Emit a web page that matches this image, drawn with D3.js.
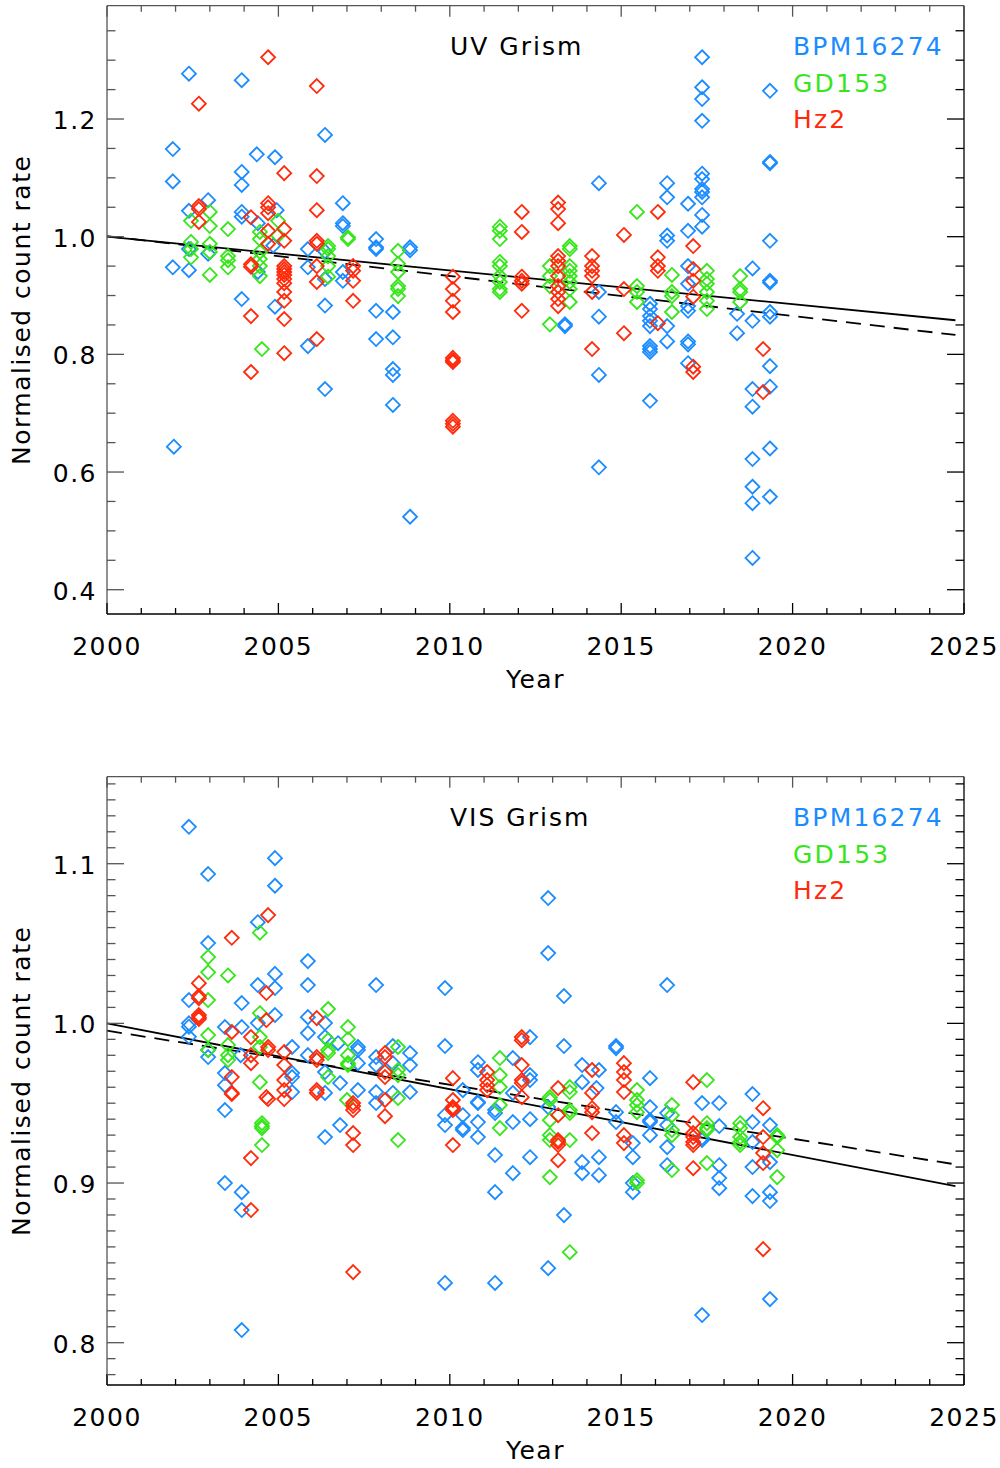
<!DOCTYPE html>
<html><head><meta charset="utf-8">
<script src="https://cdn.jsdelivr.net/npm/d3@7"></script>
<style>body{margin:0;background:#fff}</style>
</head><body>
<svg id="c" width="1000" height="1468" xmlns="http://www.w3.org/2000/svg"></svg>
<script>
const xMajorTicks = [2000,2005,2010,2015,2020,2025];
const starNames = ["BPM16274","GD153","Hz2"];
const starColors = ["#1a8cff","#36e61a","#ff2a0a"];
const uvMajorTicks = [0.4,0.6,0.8,1.0,1.2];
const visMajorTicks = [0.8,0.9,1.0,1.1];
const panelTitles = ["UV Grism","VIS Grism"];
const fitYears = [2000, 2024.75];
const uvSolidFit = [1.0, 0.858];
const uvDashedFit = [1.001, 0.833];
const visSolidFit = [1.0, 0.898];
const visDashedFit = [0.9954, 0.9117];

const uvBPM = [[2002.39,1.277],[2003.93,1.266],[2001.92,1.149],[2001.92,1.094],[2004.37,1.140],[2004.90,1.135],[2003.93,1.110],[2003.93,1.088],[2002.95,1.062],[2002.39,1.044],[2003.93,1.042],[2003.93,1.034],[2004.95,1.045],[2004.40,1.023],[2006.36,1.173],[2006.88,1.057],[2006.88,1.023],[2006.88,1.018],[2001.92,0.948],[2002.39,0.943],[2002.95,0.971],[2002.39,0.979],[2005.86,0.979],[2005.86,0.948],[2006.36,0.975],[2006.36,0.928],[2003.93,0.894],[2004.90,0.881],[2006.36,0.883],[2004.40,0.940],[2004.85,0.985],[2005.86,0.814],[2006.36,0.741],[2001.95,0.643],[2006.88,0.940],[2006.88,0.925],[2007.85,0.996],[2007.85,0.982],[2007.85,0.979],[2008.84,0.982],[2008.84,0.977],[2007.85,0.874],[2008.34,0.872],[2007.85,0.826],[2008.34,0.829],[2008.34,0.775],[2008.34,0.765],[2008.34,0.714],[2008.84,0.524],[2013.36,0.851],[2013.36,0.848],[2014.35,1.091],[2014.35,0.906],[2014.35,0.864],[2014.35,0.765],[2014.35,0.608],[2015.84,0.886],[2015.84,0.877],[2015.84,0.865],[2015.84,0.857],[2015.84,0.848],[2015.84,0.814],[2015.84,0.809],[2015.84,0.804],[2015.84,0.721],[2016.34,1.091],[2016.34,1.067],[2016.34,1.002],[2016.34,0.993],[2016.34,0.848],[2016.34,0.822],[2017.36,1.305],[2017.36,1.254],[2017.36,1.234],[2017.36,1.197],[2019.34,1.248],[2019.34,1.127],[2019.34,1.125],[2017.36,1.107],[2017.36,1.098],[2017.36,1.081],[2017.36,1.076],[2017.36,1.067],[2017.36,1.037],[2017.36,1.017],[2016.95,1.056],[2016.95,1.010],[2019.34,0.993],[2018.83,0.946],[2019.34,0.925],[2019.34,0.922],[2016.95,0.950],[2016.95,0.920],[2016.95,0.882],[2016.95,0.874],[2018.38,0.869],[2019.34,0.872],[2019.34,0.864],[2016.95,0.822],[2016.95,0.817],[2016.95,0.785],[2018.38,0.836],[2018.83,0.857],[2019.34,0.780],[2018.83,0.741],[2019.34,0.745],[2018.83,0.711],[2019.34,0.640],[2018.83,0.622],[2018.83,0.575],[2018.83,0.547],[2019.34,0.558],[2018.83,0.454]];

const uvGD = [[2002.45,1.027],[2003.00,1.042],[2003.00,1.018],[2003.53,1.013],[2002.45,0.991],[2002.45,0.979],[2002.45,0.965],[2003.00,0.988],[2003.00,0.974],[2003.00,0.935],[2003.53,0.967],[2003.53,0.960],[2003.53,0.948],[2004.46,1.008],[2004.46,0.996],[2004.46,0.974],[2004.46,0.962],[2004.46,0.950],[2004.46,0.933],[2004.99,1.027],[2004.99,1.002],[2006.45,0.984],[2006.45,0.979],[2006.45,0.967],[2006.45,0.950],[2006.45,0.932],[2004.52,0.809],[2007.03,0.999],[2007.03,0.996],[2008.49,0.976],[2008.49,0.954],[2008.49,0.940],[2008.49,0.916],[2008.49,0.911],[2008.49,0.899],[2011.46,1.017],[2011.46,1.010],[2011.46,0.996],[2011.46,0.957],[2011.46,0.950],[2011.46,0.933],[2011.46,0.923],[2011.46,0.911],[2011.46,0.906],[2013.50,0.984],[2013.50,0.979],[2013.50,0.950],[2013.50,0.942],[2013.50,0.933],[2013.50,0.923],[2013.50,0.911],[2013.50,0.889],[2012.92,0.950],[2012.92,0.933],[2012.92,0.916],[2012.92,0.851],[2015.46,1.042],[2015.46,0.916],[2015.46,0.906],[2015.46,0.889],[2016.48,0.935],[2016.48,0.906],[2016.48,0.899],[2016.48,0.872],[2017.50,0.942],[2017.50,0.928],[2017.50,0.920],[2017.50,0.906],[2017.50,0.891],[2017.50,0.877],[2018.47,0.933],[2018.47,0.911],[2018.47,0.906],[2018.47,0.889]];

const uvHZ = [[2004.70,1.305],[2006.12,1.256],[2002.68,1.226],[2005.17,1.108],[2006.12,1.103],[2002.68,1.052],[2002.68,1.047],[2004.70,1.057],[2004.70,1.050],[2004.70,1.040],[2006.12,1.045],[2002.68,1.025],[2004.20,1.033],[2004.70,1.010],[2005.17,1.013],[2005.17,0.993],[2006.12,0.993],[2006.12,0.988],[2004.20,0.953],[2004.20,0.949],[2005.17,0.950],[2005.17,0.945],[2005.17,0.940],[2005.17,0.935],[2005.17,0.928],[2005.17,0.921],[2006.12,0.950],[2006.12,0.923],[2005.17,0.906],[2005.17,0.891],[2004.20,0.865],[2005.17,0.860],[2004.70,0.988],[2005.17,0.802],[2006.12,0.826],[2004.20,0.770],[2007.18,0.950],[2007.18,0.942],[2007.18,0.925],[2007.18,0.891],[2010.09,0.932],[2010.09,0.911],[2010.09,0.891],[2010.09,0.872],[2010.09,0.794],[2010.09,0.790],[2010.09,0.787],[2010.09,0.687],[2010.09,0.682],[2010.09,0.677],[2012.10,1.042],[2012.10,1.008],[2012.10,0.932],[2012.10,0.925],[2012.10,0.920],[2012.10,0.874],[2013.16,1.058],[2013.16,1.047],[2013.16,1.023],[2013.16,0.967],[2013.16,0.959],[2013.16,0.950],[2013.16,0.933],[2013.16,0.916],[2013.16,0.906],[2013.16,0.894],[2013.16,0.882],[2014.15,0.967],[2014.15,0.950],[2014.15,0.942],[2014.15,0.933],[2014.15,0.906],[2014.15,0.809],[2015.08,1.003],[2015.08,0.911],[2015.08,0.836],[2016.07,1.042],[2016.07,0.965],[2016.07,0.950],[2016.07,0.942],[2016.07,0.853],[2017.10,0.984],[2017.10,0.945],[2017.10,0.925],[2017.10,0.898],[2017.10,0.779],[2017.10,0.770],[2019.14,0.809],[2019.14,0.736]];

const visBPM = [[2002.39,1.1231],[2002.95,1.0935],[2004.90,1.1035],[2004.90,1.0862],[2004.40,1.0634],[2002.95,1.0503],[2005.86,1.039],[2004.90,1.031],[2004.40,1.024],[2004.90,1.0221],[2005.86,1.024],[2002.39,1.0146],[2003.93,1.0127],[2002.39,1.0],[2002.39,0.9979],[2002.39,0.9916],[2002.95,0.9833],[2002.95,0.9789],[2003.44,0.9977],[2003.93,0.9977],[2004.40,1.0002],[2004.90,1.0052],[2005.86,1.0039],[2005.86,0.9939],[2006.36,1.0002],[2006.36,0.9914],[2005.40,0.9852],[2005.86,0.9801],[2005.40,0.9689],[2005.40,0.9664],[2006.36,0.9695],[2003.44,0.9689],[2003.44,0.9613],[2003.90,0.9801],[2006.74,0.9876],[2006.36,0.9564],[2005.40,0.957],[2006.80,0.9626],[2003.44,0.9457],[2003.44,0.90],[2003.93,0.8943],[2003.93,0.8831],[2003.93,0.8079],[2006.36,0.9288],[2006.80,0.9363],[2007.85,1.024],[2009.86,1.0221],[2012.87,1.0785],[2012.87,1.044],[2013.33,1.0171],[2016.34,1.024],[2009.86,0.9858],[2012.34,0.9914],[2013.33,0.9858],[2014.85,0.9858],[2014.85,0.9845],[2007.32,0.9852],[2007.32,0.9833],[2008.34,0.9858],[2008.84,0.9814],[2007.85,0.9789],[2007.85,0.9739],[2008.84,0.9739],[2008.34,0.9751],[2007.32,0.9751],[2010.82,0.9757],[2010.82,0.9708],[2011.84,0.9783],[2012.34,0.9676],[2012.34,0.9645],[2013.86,0.9739],[2014.35,0.9708],[2015.84,0.9657],[2013.86,0.9632],[2007.32,0.9582],[2008.84,0.957],[2007.85,0.957],[2010.38,0.9582],[2011.84,0.9564],[2014.28,0.9595],[2007.85,0.9501],[2008.34,0.9564],[2009.86,0.9425],[2009.86,0.9363],[2010.38,0.9425],[2010.38,0.9344],[2010.38,0.9332],[2010.82,0.9507],[2010.82,0.9501],[2010.82,0.9382],[2010.82,0.9288],[2011.32,0.9457],[2011.32,0.9438],[2011.32,0.9175],[2011.32,0.8943],[2009.86,0.8374],[2011.32,0.8374],[2011.84,0.9382],[2011.84,0.9062],[2012.34,0.94],[2012.34,0.9162],[2012.87,0.8467],[2012.87,0.9476],[2013.33,0.8799],[2013.86,0.9131],[2013.86,0.9062],[2014.35,0.9162],[2014.35,0.9049],[2014.85,0.9444],[2014.85,0.9382],[2015.34,0.925],[2015.34,0.9162],[2015.34,0.90],[2015.34,0.8943],[2015.84,0.9476],[2015.84,0.9394],[2015.84,0.9382],[2015.84,0.93],[2016.34,0.9225],[2016.34,0.9112],[2018.83,0.9557],[2017.36,0.9501],[2017.86,0.9501],[2016.34,0.9438],[2016.34,0.9363],[2017.36,0.9282],[2017.36,0.9269],[2017.86,0.9357],[2017.86,0.9112],[2017.86,0.9031],[2017.86,0.8968],[2017.36,0.8173],[2018.83,0.9382],[2018.83,0.9257],[2018.83,0.91],[2018.83,0.8918],[2019.34,0.9363],[2019.34,0.9131],[2019.34,0.8943],[2019.34,0.8887],[2019.34,0.8273]];

const visGD = [[2004.46,1.0568],[2002.95,1.0415],[2002.95,1.032],[2003.53,1.030],[2002.95,1.0146],[2004.46,1.0064],[2006.45,1.009],[2002.95,0.9927],[2004.46,0.9914],[2004.46,0.9852],[2003.53,0.9864],[2003.53,0.9801],[2003.53,0.977],[2002.95,0.9833],[2006.45,0.9895],[2006.45,0.9833],[2006.45,0.9814],[2004.46,0.9632],[2006.45,0.9664],[2004.52,0.9375],[2004.52,0.9357],[2004.52,0.9344],[2004.52,0.9238],[2007.03,0.9977],[2007.03,0.9901],[2007.03,0.9801],[2007.03,0.9751],[2007.03,0.9739],[2008.49,0.9852],[2008.49,0.9708],[2008.49,0.9676],[2011.46,0.9783],[2011.46,0.9676],[2012.92,0.9538],[2007.00,0.952],[2008.49,0.9532],[2008.49,0.9269],[2011.46,0.9601],[2011.46,0.9488],[2011.46,0.9344],[2012.92,0.952],[2012.92,0.9394],[2012.92,0.93],[2012.92,0.9269],[2012.92,0.9037],[2013.50,0.9601],[2013.50,0.957],[2013.50,0.9457],[2013.50,0.9438],[2013.50,0.9269],[2013.50,0.8567],[2015.46,0.9582],[2015.46,0.952],[2015.46,0.9488],[2015.46,0.9444],[2015.46,0.9018],[2015.46,0.90],[2017.50,0.9645],[2016.48,0.9488],[2016.48,0.9425],[2016.48,0.9332],[2016.48,0.93],[2016.48,0.9081],[2017.50,0.9375],[2017.50,0.9344],[2017.50,0.9332],[2017.50,0.9125],[2018.47,0.9375],[2018.47,0.9344],[2018.47,0.9288],[2018.47,0.9257],[2018.47,0.9238],[2019.55,0.93],[2019.55,0.9288],[2019.55,0.9206],[2019.55,0.9037]];

const visHZ = [[2004.70,1.0678],[2003.64,1.0536],[2002.68,1.0252],[2002.68,1.0171],[2002.68,1.0158],[2002.68,1.0052],[2002.68,1.0039],[2002.68,1.0027],[2004.65,1.019],[2006.12,1.0033],[2004.65,1.0021],[2003.64,0.9946],[2004.20,0.9914],[2004.70,0.9852],[2004.70,0.9833],[2004.20,0.9801],[2005.17,0.982],[2004.20,0.9751],[2006.12,0.9789],[2006.12,0.977],[2005.17,0.9739],[2003.64,0.9664],[2005.17,0.9645],[2003.64,0.9564],[2003.64,0.9557],[2004.65,0.9538],[2004.70,0.9526],[2005.17,0.9582],[2005.17,0.9526],[2006.12,0.9582],[2006.12,0.9564],[2004.20,0.9156],[2004.20,0.8831],[2012.10,0.9914],[2012.10,0.9895],[2008.11,0.9814],[2008.11,0.9789],[2008.11,0.9695],[2008.11,0.9664],[2010.09,0.9657],[2011.09,0.9695],[2011.09,0.9645],[2011.09,0.9613],[2011.09,0.9582],[2012.10,0.9739],[2012.10,0.9645],[2012.10,0.9626],[2013.16,0.9595],[2014.15,0.9708],[2015.08,0.9751],[2015.08,0.9695],[2015.08,0.9645],[2015.08,0.957],[2014.15,0.9564],[2007.18,0.9501],[2007.18,0.9482],[2007.18,0.9457],[2007.18,0.9313],[2007.18,0.9238],[2007.18,0.8442],[2008.11,0.952],[2008.11,0.9419],[2010.09,0.952],[2010.09,0.9476],[2010.09,0.9469],[2010.09,0.9457],[2010.09,0.9238],[2012.10,0.9538],[2013.16,0.9425],[2013.16,0.9269],[2013.16,0.9257],[2013.16,0.9238],[2013.16,0.9143],[2014.15,0.9469],[2014.15,0.9444],[2014.15,0.9313],[2015.08,0.93],[2015.08,0.925],[2017.10,0.9632],[2017.10,0.9375],[2017.10,0.9313],[2017.10,0.9288],[2017.10,0.9257],[2017.10,0.9238],[2017.10,0.9093],[2019.14,0.9469],[2019.14,0.9288],[2019.14,0.9188],[2019.14,0.9125],[2019.14,0.8586]];

const svg = d3.select("#c");
const FONT = "'DejaVu Sans', sans-serif";
const left = 107, right = 964;

function drawPanel(p) {
  const x = d3.scaleLinear().domain([2000, 2025]).range([left, right]);
  const y = d3.scaleLinear().domain(p.domain).range([p.bottom, p.top]);
  const g = svg.append("g");

  const line = d3.line().x(d => x(d[0])).y(d => y(d[1]));
  g.append("path").datum(fitYears.map((t, i) => [t, p.solid[i]]))
    .attr("d", line).attr("fill", "none").attr("stroke", "#000").attr("stroke-width", 1.8);
  g.append("path").datum(fitYears.map((t, i) => [t, p.dashed[i]]))
    .attr("d", line).attr("fill", "none").attr("stroke", "#000").attr("stroke-width", 1.8)
    .attr("stroke-dasharray", "15,9");

  const r = 7;
  const diamond = `M0,${-r}L${r},0L0,${r}L${-r},0Z`;
  p.series.forEach((s, i) => {
    g.append("g").selectAll("path").data(s).join("path")
      .attr("d", diamond)
      .attr("transform", d => `translate(${x(d[0])},${y(d[1])})`)
      .attr("fill", "none").attr("stroke", starColors[i]).attr("stroke-width", 1.8);
  });

  const ax = g.append("g").attr("stroke-width", 1.3);
  ax.append("line").attr("x1", left).attr("x2", left).attr("y1", p.top).attr("y2", p.bottom).attr("stroke", "#555");
  ax.append("line").attr("x1", left).attr("x2", right).attr("y1", p.top).attr("y2", p.top).attr("stroke", "#555");
  ax.append("line").attr("x1", left).attr("x2", right).attr("y1", p.bottom).attr("y2", p.bottom).attr("stroke", "#000");
  ax.append("line").attr("x1", right).attr("x2", right).attr("y1", p.top).attr("y2", p.bottom).attr("stroke", "#000");

  d3.range(2000, 2026, 1).forEach(t => {
    const major = xMajorTicks.includes(t);
    const len = major ? 11 : 6;
    ax.append("line").attr("x1", x(t)).attr("x2", x(t)).attr("y1", p.bottom).attr("y2", p.bottom - len).attr("stroke", "#000");
    ax.append("line").attr("x1", x(t)).attr("x2", x(t)).attr("y1", p.top).attr("y2", p.top + len).attr("stroke", "#555");
  });
  const lo = Math.ceil(p.domain[0] / p.minorStep - 1e-6), hi = Math.floor(p.domain[1] / p.minorStep + 1e-6);
  d3.range(lo, hi + 1).forEach(k => {
    const v = k * p.minorStep;
    const major = p.majors.some(m => Math.abs(m - v) < 1e-6);
    const len = major ? 17 : 8.5;
    ax.append("line").attr("x1", left).attr("x2", left + len).attr("y1", y(v)).attr("y2", y(v)).attr("stroke", "#555");
    ax.append("line").attr("x1", right).attr("x2", right - len).attr("y1", y(v)).attr("y2", y(v)).attr("stroke", "#000");
  });

  const txt = g.append("g").attr("font-family", FONT).attr("font-size", 25).attr("fill", "#000").attr("letter-spacing", 1.5);
  txt.selectAll("text.xl").data(xMajorTicks).join("text")
    .attr("x", d => x(d)).attr("y", p.bottom + 41).attr("text-anchor", "middle").text(d => d);
  txt.selectAll("text.yl").data(p.majors).join("text")
    .attr("x", 97).attr("y", d => y(d) + 10).attr("text-anchor", "end").text(d => d3.format(".1f")(d));
  txt.append("text").attr("x", (left + right) / 2).attr("y", p.bottom + 74).attr("text-anchor", "middle").text("Year");
  txt.append("text").attr("transform", `translate(30,${(p.top + p.bottom) / 2}) rotate(-90)`)
    .attr("text-anchor", "middle").text("Normalised count rate");
  txt.append("text").attr("x", 450).attr("y", p.top + 49.5).attr("letter-spacing", 2).text(p.title);
  starNames.forEach((n, i) => {
    txt.append("text").attr("x", 793).attr("y", p.top + 49.5 + i * 36.5).attr("letter-spacing", 2.2)
      .attr("fill", starColors[i]).text(n);
  });
}

drawPanel({top: 5.7, bottom: 614, domain: [0.3587, 1.3926], majors: uvMajorTicks, minorStep: 0.05,
  title: panelTitles[0], series: [uvBPM, uvGD, uvHZ], solid: uvSolidFit, dashed: uvDashedFit});
drawPanel({top: 776.7, bottom: 1385, domain: [0.7735, 1.1545], majors: visMajorTicks, minorStep: 0.01,
  title: panelTitles[1], series: [visBPM, visGD, visHZ], solid: visSolidFit, dashed: visDashedFit});
</script>
</body></html>
